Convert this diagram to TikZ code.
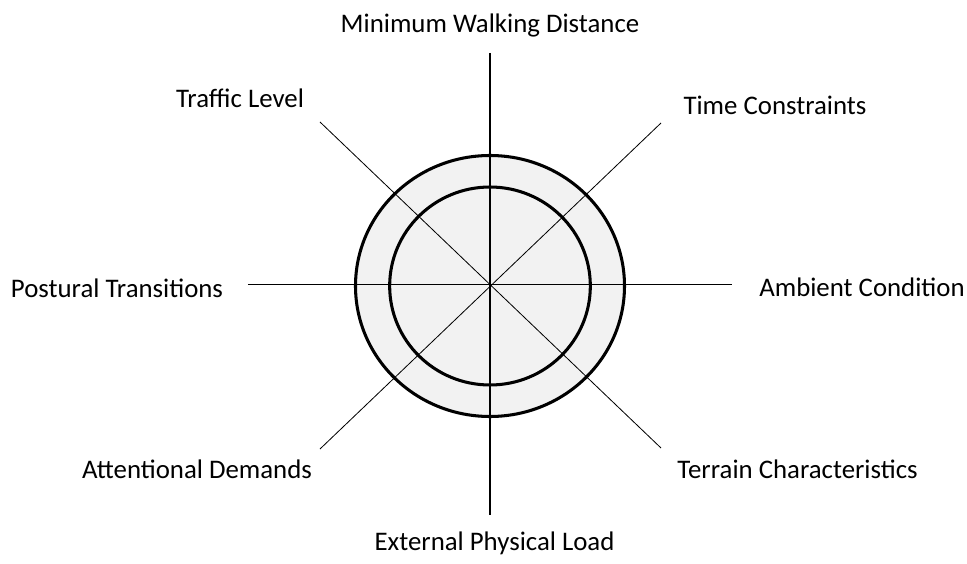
\documentclass[tikz,border=0pt]{standalone}
\usepackage{fontspec}
\setmainfont{Carlito}
\usepackage{tikz}
\usetikzlibrary{positioning}
\newcommand{\lblfont}{\fontsize{22.9}{27}\selectfont}
\tikzset{
  lbl/.style={font=\lblfont, anchor=base, inner sep=0pt},
  spoke/.style={line width=0.7pt, black},
  ring/.style={line width=2.6pt, black},
}

\begin{document}
\begin{tikzpicture}
        \useasboundingbox (-14.7,-8.34) rectangle (14.31,8.58);
        % rings
        \coordinate (c) at (0,0);
        \fill[black!5] (c) ellipse [x radius=4.035cm, y radius=3.915cm];
        % spokes
        \coordinate (n) at (0,6.99);  \coordinate (s) at (0,-6.87);
        \coordinate (w) at (-7.26,0.04); \coordinate (e) at (7.26,0.04);
        \coordinate (nw) at (-5.1,4.92); \coordinate (ne) at (5.13,4.89);
        \coordinate (sw) at (-5.1,-4.89); \coordinate (se) at (5.13,-4.86);
        \draw[spoke, line width=1pt] (n) -- (s);
        \draw[spoke] (w) -- (e);
        \draw[spoke] (nw) -- (se);
        \draw[spoke] (ne) -- (sw);
        \draw[ring] (c) ellipse [x radius=4.035cm, y radius=3.915cm];
        \draw[ring] (c) ellipse [x radius=3.01cm, y radius=2.97cm];
        % labels
        \node[lbl] (walk) at (0,7.59) {Minimum Walking Distance};
        \node[lbl] (traffic) at (-7.5,5.34) {Traffic Level};
        \node[lbl] (time) at (8.55,5.13) {Time Constraints};
        \node[lbl] (posture) at (-11.19,-0.36) {Postural Transitions};
        \node[lbl] (ambient) at (11.16,-0.33) {Ambient Condition};
        \node[lbl] (attention) at (-8.79,-5.76) {Attentional Demands};
        \node[lbl] (terrain) at (9.225,-5.76) {Terrain Characteristics};
        \node[lbl] (load) at (0.135,-7.92) {External Physical Load};
      \end{tikzpicture}
\end{document}
